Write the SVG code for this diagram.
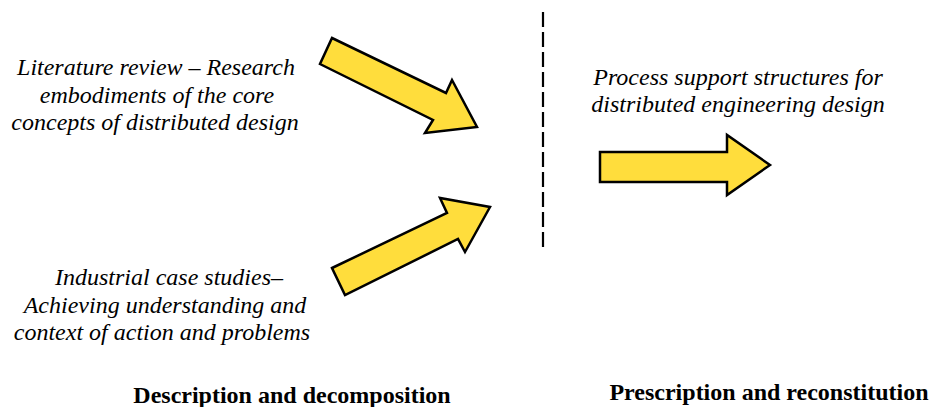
<svg xmlns="http://www.w3.org/2000/svg" width="933" height="407" viewBox="0 0 933 407">
<style>
.arrow{fill:#FFDD3C;stroke:#000;stroke-width:2.5;stroke-linejoin:miter}
.it{font-family:"Liberation Serif","Times New Roman",serif;font-style:italic;font-size:24px;fill:#000;text-anchor:middle}
.bd{font-family:"Liberation Serif","Times New Roman",serif;font-weight:bold;font-size:24px;fill:#000;text-anchor:middle}
</style>
<rect width="933" height="407" fill="#fff"/>
<g id="text-literature">
<text class="it" x="156" y="75">Literature review – Research</text>
<text class="it" x="157" y="103">embodiments of the core</text>
<text class="it" x="155" y="130">concepts of distributed design</text>
</g>
<g id="text-industrial">
<text class="it" x="169" y="285">Industrial case studies–</text>
<text class="it" x="165" y="313">Achieving understanding and</text>
<text class="it" x="162" y="340">context of action and problems</text>
</g>
<g id="text-process">
<text class="it" x="738" y="85">Process support structures for</text>
<text class="it" x="738" y="112">distributed engineering design</text>
</g>
<g id="connectors">
<polygon id="arrow-top" class="arrow" points="332,38 446,93 452,80 477,127 425,133 433,120 320,64"/>
<polygon id="arrow-bottom" class="arrow" points="332,268 447,213 440,198 490,207 465,252 458,239 345,295"/>
<polygon id="arrow-right" class="arrow" points="600,152 727,152 727,135 770,165 727,195 727,182 600,182"/>
<line id="divider" x1="543" y1="12" x2="543" y2="252" stroke="#000" stroke-width="2.2" stroke-dasharray="15,5"/>
</g>
<g id="labels">
<text class="bd" x="292" y="403">Description and decomposition</text>
<text class="bd" x="769" y="400">Prescription and reconstitution</text>
</g>
</svg>
